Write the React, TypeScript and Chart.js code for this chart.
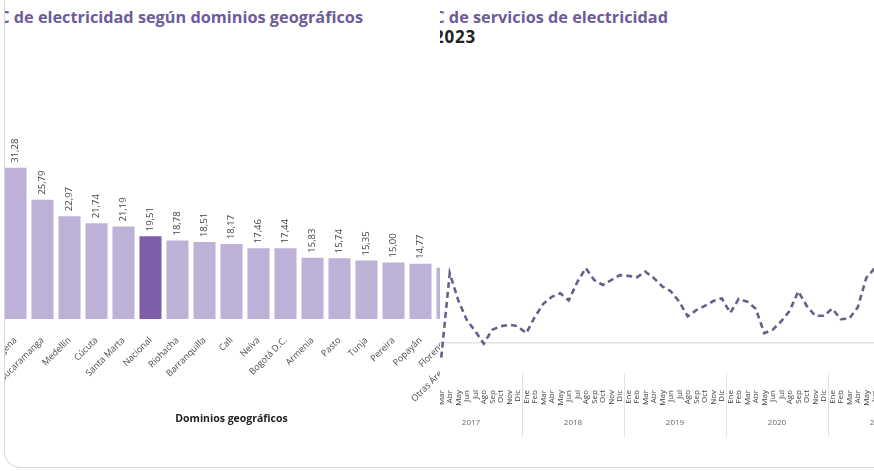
import React, { useEffect, useRef } from 'react';
import { Chart, registerables } from 'chart.js';

Chart.register(...registerables);
Chart.defaults.font.family = "'Open Sans', sans-serif";

// ---- Left chart data (bar) ----
const barCategories = ['', 'Cartagena', 'Bucaramanga', 'Medellín', 'Cúcuta', 'Santa Marta', 'Nacional', 'Riohacha', 'Barranquilla', 'Cali', 'Neiva', 'Bogotá D.C.', 'Armenia', 'Pasto', 'Tunja', 'Pereira', 'Popayán', 'Florencia', 'Otras Áreas Urbanas'];
const barValues: (number | null)[] = [null, 31.28, 25.79, 22.97, 21.74, 21.19, 19.51, 18.78, 18.51, 18.17, 17.46, 17.44, 15.83, 15.74, 15.35, 15.0, 14.77, 14.1, 13.6];
const highlightCategory = 'Nacional';

// ---- Right chart data (line) ----
const monthNames = ['Ene', 'Feb', 'Mar', 'Abr', 'May', 'Jun', 'Jul', 'Ago', 'Sep', 'Oct', 'Nov', 'Dic'];
const yearLabels = ['2017', '2018', '2019', '2020', '2021'];
const firstMonthIndex = 2; // series starts in March 2017
const lineValues = [
  -2.1, 10.0, 6.1, 3.3, 1.7, -0.1, 1.9, 2.4, 2.6, 2.4,
  1.4, 3.7, 5.6, 6.6, 7.1, 6.1, 8.7, 10.7, 9.0, 8.3, 9.0, 9.7,
  9.6, 9.4, 10.2, 9.3, 8.1, 7.4, 5.9, 3.8, 4.7, 5.3, 6.0, 6.4,
  4.3, 6.3, 5.9, 4.9, 1.4, 1.9, 3.1, 4.6, 7.4, 5.3, 3.9, 3.9,
  4.9, 3.4, 3.5, 5.1, 9.3, 10.7,
];
const monthLabels = lineValues.map((_, i) => monthNames[(firstMonthIndex + i) % 12]);
const yearCenters = yearLabels.map((_, yi) => yi * 12 - firstMonthIndex + 5.5);
const yearSeparators = yearLabels.slice(1).map((_, yi) => (yi + 1) * 12 - firstMonthIndex - 0.5);

const LIGHT = '#bdb1d7';
const DARK = '#7e60a8';
const TITLE = '#6e5b9a';

const valueLabelPlugin = {
  id: 'valueLabels',
  afterDatasetsDraw(chart: any) {
    const ctx = chart.ctx;
    const meta = chart.getDatasetMeta(0);
    ctx.save();
    ctx.fillStyle = '#444';
    ctx.font = "9.5px 'Open Sans', sans-serif";
    ctx.textAlign = 'left';
    ctx.textBaseline = 'middle';
    meta.data.forEach((el: any, i: number) => {
      const v = barValues[i];
      if (v === null || v === undefined) return;
      ctx.save();
      ctx.translate(el.x, el.y - 5);
      ctx.rotate(-Math.PI / 2);
      ctx.fillText(v.toFixed(2).replace('.', ','), 0, 0);
      ctx.restore();
    });
    ctx.restore();
  },
};

const separatorPlugin = {
  id: 'yearSeparators',
  afterDraw(chart: any) {
    const s = chart.scales.x2;
    const xs = chart.scales.x;
    const ctx = chart.ctx;
    ctx.save();
    ctx.strokeStyle = '#e2e2e2';
    ctx.lineWidth = 1;
    yearSeparators.forEach((v) => {
      const x = Math.round(s.getPixelForValue(v)) + 0.5;
      ctx.beginPath();
      ctx.moveTo(x, xs.top - 14);
      ctx.lineTo(x, s.bottom + 1);
      ctx.stroke();
    });
    ctx.restore();
  },
};

function BarChart() {
  const ref = useRef<HTMLCanvasElement>(null);
  useEffect(() => {
    if (!ref.current) return;
    const chart = new Chart(ref.current, {
      type: 'bar',
      data: {
        labels: barCategories,
        datasets: [
          {
            data: barValues as any,
            backgroundColor: barCategories.map((c) => (c === highlightCategory ? DARK : LIGHT)),
            borderWidth: 0,
            barPercentage: 0.816,
            categoryPercentage: 1,
          },
        ],
      },
      options: {
        animation: false,
        responsive: false,
        layout: { padding: { top: 117, bottom: 42, left: 0, right: 0 } },
        plugins: { legend: { display: false }, tooltip: { enabled: false } },
        scales: {
          x: {
            grid: { display: false, drawTicks: false },
            border: { display: false },
            ticks: { minRotation: 45, maxRotation: 45, autoSkip: false, padding: 16, color: '#4a4a4a', font: { size: 9 } },
            title: { display: true, text: 'Dominios geográficos', color: '#222', font: { size: 10.5, weight: 'bold' }, padding: { top: 0, bottom: 4 } },
            afterFit: (s: any) => {
              s.height = 110;
              s.paddingLeft = 0;
              s.paddingRight = 0;
            },
          },
          y: { display: false, min: 5.3, max: 40 },
        },
      } as any,
      plugins: [valueLabelPlugin],
    });
    return () => chart.destroy();
  }, []);
  return <canvas ref={ref} width={513} height={471} style={{ width: 513, height: 471, display: 'block' }} />;
}

function LineChart() {
  const ref = useRef<HTMLCanvasElement>(null);
  useEffect(() => {
    if (!ref.current) return;
    const chart = new Chart(ref.current, {
      type: 'line',
      data: {
        labels: monthLabels,
        datasets: [
          {
            data: lineValues,
            borderColor: '#6a5f8c',
            borderWidth: 2.6,
            borderDash: [6, 4],
            pointRadius: 0,
            tension: 0,
            fill: false,
          },
        ],
      },
      options: {
        animation: false,
        responsive: false,
        layout: { padding: { top: 250, bottom: 35, left: 10, right: 10 } },
        plugins: { legend: { display: false }, tooltip: { enabled: false } },
        scales: {
          x: {
            type: 'category',
            offset: true,
            weight: 0,
            grid: { display: false, drawTicks: false },
            border: { display: false },
            ticks: { minRotation: 90, maxRotation: 90, autoSkip: false, padding: 3, color: '#3c3c3c', font: { size: 8 } },
            afterFit: (s: any) => {
              s.height = 19;
              s.paddingLeft = 0;
              s.paddingRight = 0;
            },
          },
          x2: {
            type: 'linear',
            position: 'bottom',
            weight: 1,
            min: -0.5,
            max: monthLabels.length - 0.5,
            grid: { display: false, drawTicks: false },
            border: { display: false },
            afterBuildTicks: (s: any) => {
              s.ticks = yearCenters.map((c) => ({ value: c }));
            },
            ticks: {
              autoSkip: false,
              maxRotation: 0,
              minRotation: 0,
              padding: 12,
              color: '#666',
              font: { size: 8 },
              callback: (v: any) => {
                const idx = yearCenters.indexOf(Number(v));
                return idx >= 0 ? yearLabels[idx] : '';
              },
            },
            afterFit: (s: any) => {
              s.height = 30;
              s.paddingLeft = 0;
              s.paddingRight = 0;
            },
          },
          y: {
            min: -6.3,
            max: 13.3,
            ticks: { display: false },
            border: { display: false },
            grid: {
              drawTicks: false,
              lineWidth: 1.5,
              color: (c: any) => (c.tick && c.tick.value === 0 ? '#e2e2e2' : 'rgba(0,0,0,0)'),
            },
          },
        },
      } as any,
      plugins: [separatorPlugin],
    });
    return () => chart.destroy();
  }, []);
  return <canvas ref={ref} width={462} height={471} style={{ width: 462, height: 471, display: 'block' }} />;
}

const titleFont: React.CSSProperties = {
  fontFamily: "'Open Sans', sans-serif",
  fontWeight: 700,
  fontSize: 16.3,
  lineHeight: '20px',
  whiteSpace: 'nowrap',
};

export default function App() {
  return (
    <div style={{ position: 'fixed', left: 0, top: 0, width: 874, height: 471, overflow: 'hidden', background: '#fff' }}>
      <div
        style={{
          position: 'absolute',
          left: 4,
          top: -40,
          width: 930,
          height: 508,
          boxSizing: 'border-box',
          border: '1px solid #d5d5dc',
          borderRadius: 16,
          overflow: 'hidden',
          background: '#fff',
        }}
      >
        <div style={{ position: 'absolute', left: -5, top: 39, width: 930, height: 471 }}>
          <div style={{ ...titleFont, position: 'absolute', left: 0, top: 7, width: 363, display: 'flex', justifyContent: 'flex-end', color: TITLE }}>
            <span>Variación anual del IPC de electricidad según dominios geográficos</span>
          </div>
          <div style={{ position: 'absolute', left: -25, top: 0 }}>
            <BarChart />
          </div>
          <div style={{ position: 'absolute', left: 440, top: 0, width: 460, height: 471, overflow: 'hidden', background: '#fff' }}>
            <div style={{ ...titleFont, position: 'absolute', left: -300, top: 7, width: 528, display: 'flex', justifyContent: 'flex-end', color: TITLE }}>
              <span>Variación anual del IPC de servicios de electricidad</span>
            </div>
            <div style={{ ...titleFont, fontSize: 17, letterSpacing: 0.8, position: 'absolute', left: -300, top: 27, width: 336, display: 'flex', justifyContent: 'flex-end', color: '#222' }}>
              <span>Colombia, 2017 - 2023</span>
            </div>
            <div style={{ position: 'absolute', left: -13, top: 0 }}>
              <LineChart />
            </div>
          </div>
        </div>
      </div>
    </div>
  );
}
